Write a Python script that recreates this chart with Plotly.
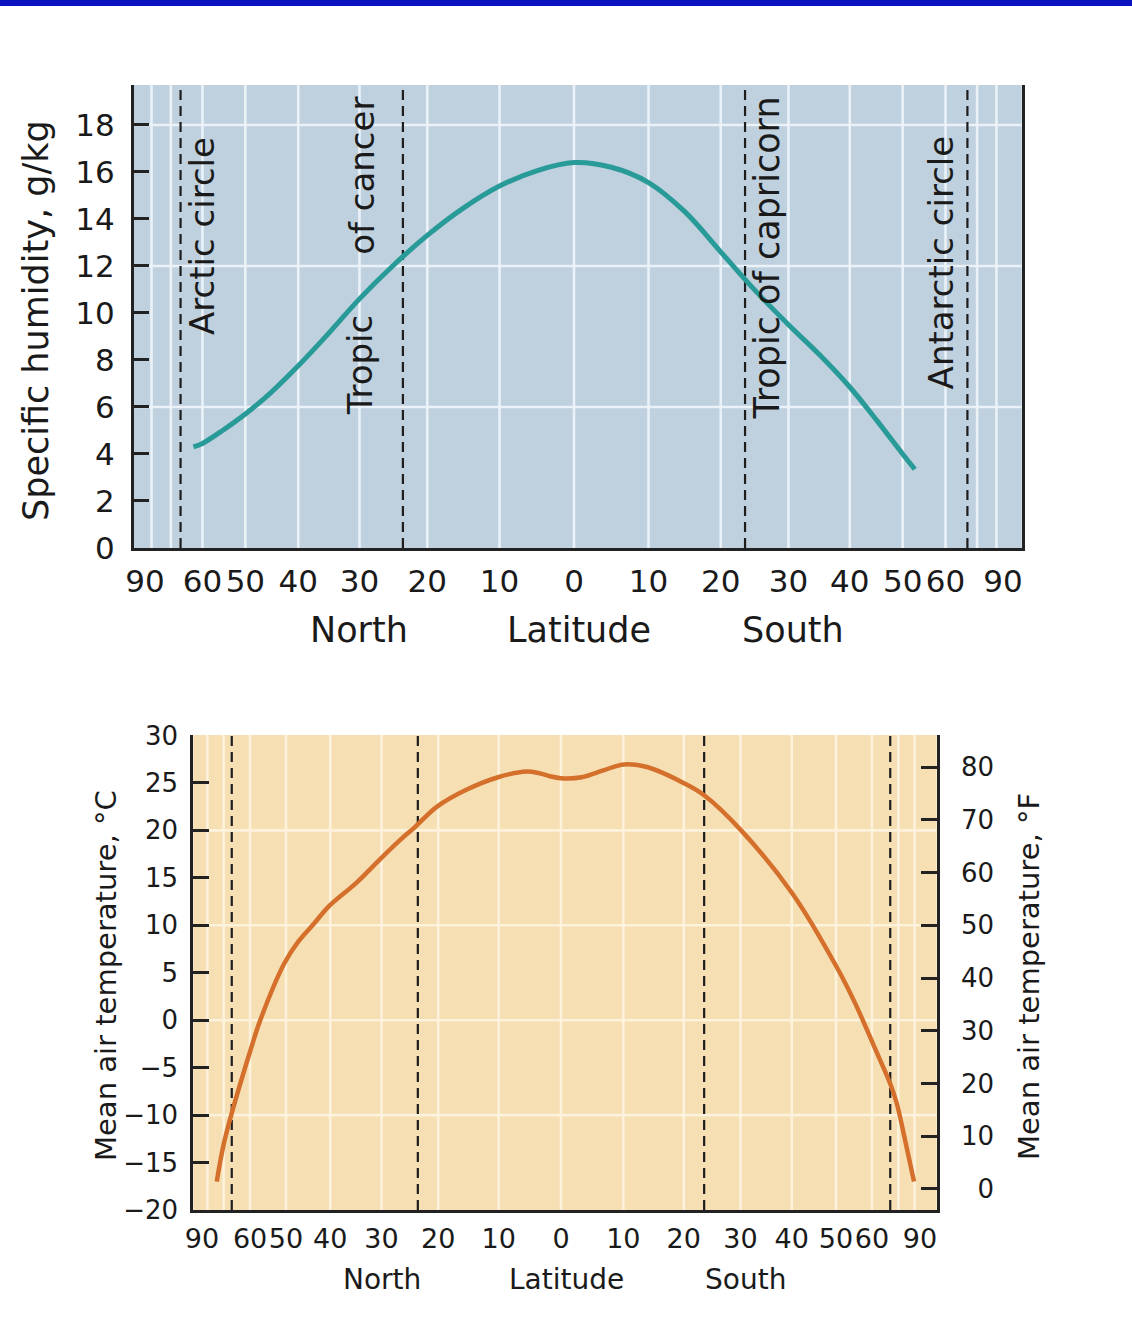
import numpy as np
import plotly.graph_objects as go

# ---------------- data (latitude in degrees, North positive) ----------------
hum_lat = [62.5, 60, 55, 50, 45, 40, 35, 30, 25, 20, 15, 10, 5, 0,
           -5, -10, -15, -20, -25, -30, -35, -40, -45, -50, -52.6]
hum_val = [4.3, 4.45, 5.0, 5.7, 6.6, 7.75, 9.1, 10.6, 12.0, 13.3, 14.45, 15.4, 16.05, 16.4,
           16.2, 15.55, 14.3, 12.6, 10.95, 9.5, 8.2, 6.85, 5.4, 4.0, 3.35]

temp_lat = [73.5, 70.2, 66.5, 60, 57, 50.4, 47, 43.6, 40.3, 34.7, 30.2, 26.6, 24.0, 20.2, 15.2,
            10.1, 5.5, 3.6, 1.75, 0, -3.3, -6.9, -10.1, -14.0, -20.1, -23.5, -30.2, -40.2,
            -50.3, -55, -60.5, -66.5, -69.2, -73.5, -79.5]
temp_c = [-17.0, -13.3, -9.8, -3.3, -0.1, 6.0, 8.3, 10.1, 12.0, 14.5, 17.0, 19.0, 20.35, 22.5,
          24.3, 25.6, 26.2, 26.05, 25.7, 25.5, 25.6, 26.35, 26.95, 26.65, 24.95, 23.7, 19.95,
          13.3, 5.5, 1.8, -2.6, -6.7, -8.7, -12.7, -17.0]

lat_ticks = [90, 60, 50, 40, 30, 20, 10, 0, -10, -20, -30, -40, -50, -60, -90]
lat_tick_text = ["90", "60", "50", "40", "30", "20", "10", "0",
                 "10", "20", "30", "40", "50", "60", "90"]
grid_lats = [80, 70, 60, 50, 40, 30, 20, 10, 0, -10, -20, -30, -40, -50, -60, -70, -80]
circle_lats = [66.5, 23.5, -23.5, -66.5]

hum_ticks = [0, 2, 4, 6, 8, 10, 12, 14, 16, 18]
hum_grid = [6, 12, 18]
temp_ticks = [-20, -15, -10, -5, 0, 5, 10, 15, 20, 25, 30]
temp_grid = [-10, 0, 10, 20]
f_ticks = [0, 10, 20, 30, 40, 50, 60, 70, 80]
f_tick_text = ["\u20070", "10", "20", "30", "40", "50", "60", "70", "80"]


def sx(lat):
    """Area-true latitude scale: position = sine of latitude (North to the left)."""
    return -np.sin(np.radians(np.asarray(lat, dtype=float)))


FONT = "DejaVu Sans"
TXT = "#1a1a1a"
AXC = "#222222"

fig = go.Figure()

fig.add_trace(go.Scatter(x=sx(hum_lat), y=hum_val, mode="lines", xaxis="x", yaxis="y",
                         line=dict(color="#289b98", width=5, shape="spline", smoothing=1.0),
                         showlegend=False, hoverinfo="skip"))
fig.add_trace(go.Scatter(x=sx(temp_lat), y=temp_c, mode="lines", xaxis="x2", yaxis="y2",
                         line=dict(color="#d4702c", width=4.5, shape="spline", smoothing=1.0),
                         showlegend=False, hoverinfo="skip"))
# same temperatures in °F on the right-hand axis (transparent, only to carry that axis)
fig.add_trace(go.Scatter(x=sx(temp_lat), y=np.asarray(temp_c) * 9 / 5 + 32, mode="lines",
                         xaxis="x2", yaxis="y3", line=dict(color="rgba(0,0,0,0)", width=1),
                         showlegend=False, hoverinfo="skip"))

shapes = []
# top blue band
shapes.append(dict(type="rect", xref="paper", yref="paper", x0=0, x1=1, y0=1 - 6 / 1333, y1=1,
                   fillcolor="#0a12bf", line=dict(width=0), layer="above"))

panels = [
    dict(xr="x", yr="y", bg="#bfd0de", grid="rgba(236,243,249,0.95)", hgrid=hum_grid),
    dict(xr="x2", yr="y2", bg="#f6dfb3", grid="rgba(253,242,222,0.95)", hgrid=temp_grid),
]
for p in panels:
    shapes.append(dict(type="rect", xref=p["xr"] + " domain", yref=p["yr"] + " domain",
                       x0=0, x1=1, y0=0, y1=1, fillcolor=p["bg"], line=dict(width=0), layer="below"))
    for g in grid_lats:
        gx = float(sx(g))
        shapes.append(dict(type="line", xref=p["xr"], yref=p["yr"] + " domain", x0=gx, x1=gx,
                           y0=0, y1=1, line=dict(color=p["grid"], width=2.6), layer="below"))
    for h in p["hgrid"]:
        shapes.append(dict(type="line", xref=p["xr"] + " domain", yref=p["yr"], x0=0, x1=1,
                           y0=h, y1=h, line=dict(color=p["grid"], width=2.6), layer="below"))
    for c in circle_lats:
        cx = float(sx(c))
        shapes.append(dict(type="line", xref=p["xr"], yref=p["yr"] + " domain", x0=cx, x1=cx,
                           y0=0, y1=1, line=dict(color="#1e1e1e", width=2.2, dash="10px,6px"),
                           layer="below"))

W, H = 1132, 1333


def px(xp):
    return xp / W


def py(yp):
    return 1 - yp / H


annotations = []


def ann(text, x, y, size, angle=0, **kw):
    d = dict(text=text, x=x, y=y, showarrow=False, textangle=angle,
             font=dict(family=FONT, size=size, color=TXT), xanchor="center", yanchor="middle")
    d.update(kw)
    if "xref" not in d:
        d["xref"] = "paper"
    if "yref" not in d:
        d["yref"] = "paper"
    annotations.append(d)


# top panel titles
ann("Specific humidity, g/kg", px(36), py(321), 35, -90)
ann("North", px(359), py(630), 35)
ann("Latitude", px(579), py(630), 35)
ann("South", px(793), py(630), 35)
# circle / tropic labels (top panel)
ann("Arctic circle", float(sx(66.5)), 13.26, 34, -90, xref="x", yref="y", xshift=22)
ann("Tropic", float(sx(23.5)), 7.81, 34, -90, xref="x", yref="y", xshift=-42)
ann("of cancer", float(sx(23.5)), 15.83, 34, -90, xref="x", yref="y", xshift=-41)
ann("Tropic of capricorn", float(sx(-23.5)), 12.32, 35, -90, xref="x", yref="y", xshift=22)
ann("Antarctic circle", float(sx(-66.5)), 12.17, 34, -90, xref="x", yref="y", xshift=-26)

# bottom panel titles
ann("Mean air temperature, °C", px(106), py(976), 29, -90)
ann("Mean air temperature, °F", px(1029), py(977), 29, -90)
ann("North", px(382), py(1279), 28)
ann("Latitude", px(566), py(1279), 28)
ann("South", px(745), py(1279), 28)

common_x = dict(tickmode="array", tickvals=sx(lat_ticks), ticktext=lat_tick_text, ticks="",
                tickangle=0, showgrid=False, zeroline=False, showline=True, linecolor=AXC,
                linewidth=3, automargin=False)

fig.update_layout(
    width=W, height=H, autosize=False,
    margin=dict(l=0, r=0, t=0, b=0, pad=0, autoexpand=False),
    paper_bgcolor="white", plot_bgcolor="rgba(0,0,0,0)",
    font=dict(family=FONT, color=TXT),
    showlegend=False,
    xaxis=dict(domain=[134 / W, 1021.7 / W], range=[-1.0256, 1.0436], anchor="y",
               tickfont=dict(family=FONT, size=31, color=TXT), ticklabelstandoff=4, **common_x),
    yaxis=dict(domain=[py(548), py(85)], range=[0, 19.7], anchor="x",
               tickmode="array", tickvals=hum_ticks, ticks="inside", ticklen=15, tickwidth=2.5,
               tickcolor=AXC, showgrid=False, zeroline=False, showline=True, mirror=True,
               linecolor=AXC, linewidth=3, tickfont=dict(family=FONT, size=31, color=TXT),
               ticklabelstandoff=10, automargin=False),
    xaxis2=dict(domain=[193.3 / W, 936.7 / W], range=[-1.0242, 1.0465], anchor="y2",
                tickfont=dict(family=FONT, size=27, color=TXT), ticklabelstandoff=3, **common_x),
    yaxis2=dict(domain=[py(1210), py(735)], range=[-20, 30.05], anchor="x2",
                tickmode="array", tickvals=temp_ticks, ticks="inside", ticklen=16, tickwidth=2.5,
                tickcolor=AXC, showgrid=False, zeroline=False, showline=True,
                linecolor=AXC, linewidth=3, tickfont=dict(family=FONT, size=26, color=TXT),
                ticklabelstandoff=7, automargin=False),
    yaxis3=dict(overlaying="y2", side="right", anchor="x2", range=[-20 * 1.8 + 32, 30.05 * 1.8 + 32],
                tickmode="array", tickvals=f_ticks, ticktext=f_tick_text, ticks="inside",
                ticklen=16, tickwidth=2.5, tickcolor=AXC, showgrid=False, zeroline=False,
                showline=True, linecolor=AXC, linewidth=3,
                tickfont=dict(family=FONT, size=26, color=TXT), ticklabelstandoff=16,
                automargin=False),
    shapes=shapes,
    annotations=annotations,
)

POST = (
    "var gd=document.getElementById('{plot_id}');"
    "document.documentElement.style.margin='0';document.documentElement.style.padding='0';"
    "document.documentElement.style.overflow='hidden';"
    "document.body.style.margin='0';document.body.style.padding='0';"
    "document.body.style.overflow='hidden';"
    "if(gd){gd.style.position='absolute';gd.style.left='0px';gd.style.top='0px';}"
)

fig.write_html("out.html", config={"displayModeBar": False}, post_script=POST)
